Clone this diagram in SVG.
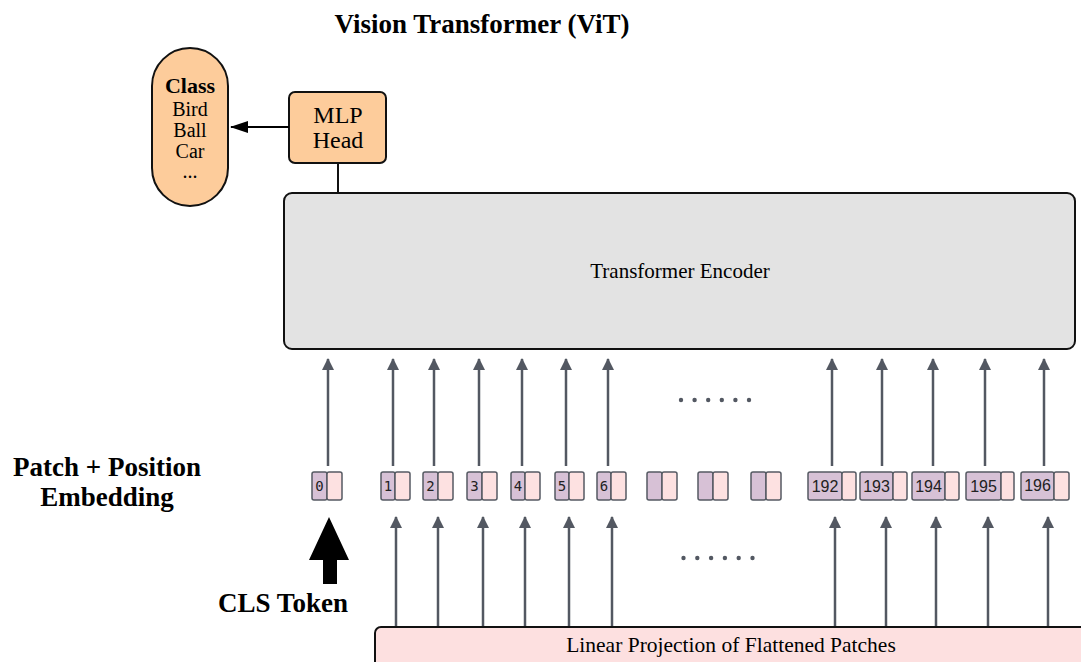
<svg xmlns="http://www.w3.org/2000/svg" width="1081" height="662" viewBox="0 0 1081 662">
  <style>
    .bold { font-family: "Liberation Serif", "Times New Roman", serif; font-weight: bold; fill: #000; }
    .serif { font-family: "Liberation Serif", "Times New Roman", serif; fill: #000; }
    .node { stroke: #111; stroke-width: 2; }
    .orange { fill: #fdcc9b; }
    .tok-a { fill: #d7c1d6; stroke: #555a63; stroke-width: 1.5; }
    .tok-b { fill: #fde1e1; stroke: #555a63; stroke-width: 1.5; }
    .mono { font-family: "DejaVu Sans Mono", monospace; font-size: 14px; fill: #222; text-anchor: middle; }
    .num { font-family: "Liberation Sans", Arial, sans-serif; font-size: 16px; fill: #222; text-anchor: middle; }
    .flow { stroke: #535862; stroke-width: 2.5; fill: none; marker-end: url(#head); }
    .dot { fill: #535862; }
  </style>
  <defs>
    <marker id="head" viewBox="0 0 12 12" refX="11" refY="6" markerWidth="12" markerHeight="12" markerUnits="userSpaceOnUse" orient="auto">
      <path d="M0,0 L12,6 L0,12 z" fill="#535862"/>
    </marker>
    <marker id="headBlack" viewBox="0 0 18 12" refX="17" refY="6" markerWidth="18" markerHeight="12" markerUnits="userSpaceOnUse" orient="auto">
      <path d="M0,0 L18,6 L0,12 z" fill="#000"/>
    </marker>
  </defs>

  <rect width="1081" height="662" fill="#ffffff"/>

  <!-- title -->
  <text class="bold" x="482" y="33" font-size="27" text-anchor="middle">Vision Transformer (ViT)</text>

  <!-- class output capsule -->
  <g id="class-output">
    <rect class="node orange" x="152" y="48" width="76" height="158" rx="38" ry="38"/>
    <text class="bold" x="190" y="93" font-size="22" text-anchor="middle">Class</text>
    <text class="serif" x="190" y="116" font-size="20" text-anchor="middle">Bird</text>
    <text class="serif" x="190" y="137" font-size="20" text-anchor="middle">Ball</text>
    <text class="serif" x="190" y="158" font-size="20" text-anchor="middle">Car</text>
    <text class="serif" x="190" y="178" font-size="20" text-anchor="middle">...</text>
  </g>

  <!-- MLP head -->
  <g id="mlp-head">
    <rect class="node orange" x="289" y="92" width="97" height="71" rx="6" ry="6"/>
    <text class="serif" x="338" y="123" font-size="24" text-anchor="middle">MLP</text>
    <text class="serif" x="338" y="148" font-size="24" text-anchor="middle">Head</text>
  </g>

  <!-- transformer encoder -->
  <g id="transformer-encoder">
    <rect class="node" x="284" y="193" width="791" height="156" rx="8" ry="8" fill="#e3e3e3"/>
    <text class="serif" x="680" y="278" font-size="21" text-anchor="middle">Transformer Encoder</text>
  </g>

  <!-- linear projection -->
  <g id="linear-projection">
    <rect class="node" x="375" y="627" width="720" height="50" rx="6" ry="6" fill="#fde0e0"/>
    <text class="serif" x="731" y="652" font-size="21.5" text-anchor="middle">Linear Projection of Flattened Patches</text>
  </g>

  <!-- side labels -->
  <g id="embedding-label">
    <text class="bold" x="107" y="476" font-size="27" text-anchor="middle">Patch + Position</text>
    <text class="bold" x="107" y="506" font-size="27" text-anchor="middle">Embedding</text>
  </g>
  <g id="cls-token">
    <path d="M329,517 L349,560 L337,560 L337,584 L323,584 L323,560 L309,560 Z" fill="#000"/>
    <text class="bold" x="283" y="612" font-size="27" text-anchor="middle">CLS Token</text>
  </g>

  <!-- patch + position embedding tokens -->
  <g id="tokens">
    <g id="tok-0"><rect class="tok-a" x="312" y="472" width="15" height="28" rx="2"/><rect class="tok-b" x="327" y="472" width="15" height="28" rx="2"/><text class="mono" x="319.5" y="491">0</text></g>
    <g id="tok-1"><rect class="tok-a" x="381" y="472" width="14" height="28" rx="2"/><rect class="tok-b" x="395" y="472" width="15" height="28" rx="2"/><text class="mono" x="388" y="491">1</text></g>
    <g id="tok-2"><rect class="tok-a" x="423" y="472" width="15" height="28" rx="2"/><rect class="tok-b" x="438" y="472" width="15" height="28" rx="2"/><text class="mono" x="430.5" y="491">2</text></g>
    <g id="tok-3"><rect class="tok-a" x="467" y="472" width="15" height="28" rx="2"/><rect class="tok-b" x="482" y="472" width="15" height="28" rx="2"/><text class="mono" x="474.5" y="491">3</text></g>
    <g id="tok-4"><rect class="tok-a" x="511" y="472" width="14" height="28" rx="2"/><rect class="tok-b" x="525" y="472" width="15" height="28" rx="2"/><text class="mono" x="518" y="491">4</text></g>
    <g id="tok-5"><rect class="tok-a" x="555" y="472" width="14" height="28" rx="2"/><rect class="tok-b" x="569" y="472" width="15" height="28" rx="2"/><text class="mono" x="562" y="491">5</text></g>
    <g id="tok-6"><rect class="tok-a" x="597" y="472" width="14" height="28" rx="2"/><rect class="tok-b" x="611" y="472" width="15" height="28" rx="2"/><text class="mono" x="604" y="491">6</text></g>
    <g id="tok-blank-a"><rect class="tok-a" x="647" y="472" width="15" height="28" rx="2"/><rect class="tok-b" x="662" y="472" width="15" height="28" rx="2"/></g>
    <g id="tok-blank-b"><rect class="tok-a" x="698" y="472" width="15" height="28" rx="2"/><rect class="tok-b" x="713" y="472" width="15" height="28" rx="2"/></g>
    <g id="tok-blank-c"><rect class="tok-a" x="751" y="472" width="15" height="28" rx="2"/><rect class="tok-b" x="766" y="472" width="15" height="28" rx="2"/></g>
    <g id="tok-192"><rect class="tok-a" x="808" y="472" width="34" height="28" rx="2"/><rect class="tok-b" x="842" y="472" width="14" height="28" rx="2"/><text class="num" x="825" y="492">192</text></g>
    <g id="tok-193"><rect class="tok-a" x="860" y="472" width="33" height="28" rx="2"/><rect class="tok-b" x="893" y="472" width="14" height="28" rx="2"/><text class="num" x="876.5" y="492">193</text></g>
    <g id="tok-194"><rect class="tok-a" x="912" y="472" width="33" height="28" rx="2"/><rect class="tok-b" x="945" y="472" width="14" height="28" rx="2"/><text class="num" x="928.5" y="492">194</text></g>
    <g id="tok-195"><rect class="tok-a" x="966" y="472" width="35" height="28" rx="2"/><rect class="tok-b" x="1001" y="472" width="13" height="28" rx="2"/><text class="num" x="983.5" y="492">195</text></g>
    <g id="tok-196"><rect class="tok-a" x="1021" y="472" width="33" height="28" rx="2"/><rect class="tok-b" x="1054" y="472" width="15" height="28" rx="2"/><text class="num" x="1037.5" y="491">196</text></g>
  </g>

  <!-- connectors -->
  <g id="connectors">
    <line x1="289" y1="127" x2="231" y2="127" stroke="#000" stroke-width="2" marker-end="url(#headBlack)"/>
    <line x1="338" y1="163" x2="338" y2="193" stroke="#111" stroke-width="2"/>

    <!-- tokens into encoder -->
    <line class="flow" x1="328" y1="466" x2="328" y2="359"/>
    <line class="flow" x1="393" y1="466" x2="393" y2="359"/>
    <line class="flow" x1="434" y1="466" x2="434" y2="359"/>
    <line class="flow" x1="479" y1="466" x2="479" y2="359"/>
    <line class="flow" x1="522" y1="466" x2="522" y2="359"/>
    <line class="flow" x1="566" y1="466" x2="566" y2="359"/>
    <line class="flow" x1="608" y1="466" x2="608" y2="359"/>
    <line class="flow" x1="832" y1="466" x2="832" y2="359"/>
    <line class="flow" x1="882" y1="466" x2="882" y2="359"/>
    <line class="flow" x1="933" y1="466" x2="933" y2="359"/>
    <line class="flow" x1="985" y1="466" x2="985" y2="359"/>
    <line class="flow" x1="1044" y1="466" x2="1044" y2="359"/>

    <!-- projection into tokens -->
    <line class="flow" x1="396" y1="626" x2="396" y2="517"/>
    <line class="flow" x1="438" y1="626" x2="438" y2="517"/>
    <line class="flow" x1="483" y1="626" x2="483" y2="517"/>
    <line class="flow" x1="525" y1="626" x2="525" y2="517"/>
    <line class="flow" x1="569" y1="626" x2="569" y2="517"/>
    <line class="flow" x1="612" y1="626" x2="612" y2="517"/>
    <line class="flow" x1="835" y1="626" x2="835" y2="517"/>
    <line class="flow" x1="886" y1="626" x2="886" y2="517"/>
    <line class="flow" x1="936" y1="626" x2="936" y2="517"/>
    <line class="flow" x1="988" y1="626" x2="988" y2="517"/>
    <line class="flow" x1="1048" y1="626" x2="1048" y2="517"/>
  </g>

  <!-- ellipsis dots -->
  <g id="ellipsis-upper">
    <circle class="dot" cx="681" cy="400" r="2.2"/>
    <circle class="dot" cx="694.6" cy="400" r="2.2"/>
    <circle class="dot" cx="708.2" cy="400" r="2.2"/>
    <circle class="dot" cx="721.8" cy="400" r="2.2"/>
    <circle class="dot" cx="735.4" cy="400" r="2.2"/>
    <circle class="dot" cx="749" cy="400" r="2.2"/>
  </g>
  <g id="ellipsis-lower">
    <circle class="dot" cx="683.5" cy="558" r="2.2"/>
    <circle class="dot" cx="697.3" cy="558" r="2.2"/>
    <circle class="dot" cx="711.1" cy="558" r="2.2"/>
    <circle class="dot" cx="724.9" cy="558" r="2.2"/>
    <circle class="dot" cx="738.7" cy="558" r="2.2"/>
    <circle class="dot" cx="752.5" cy="558" r="2.2"/>
  </g>
</svg>
